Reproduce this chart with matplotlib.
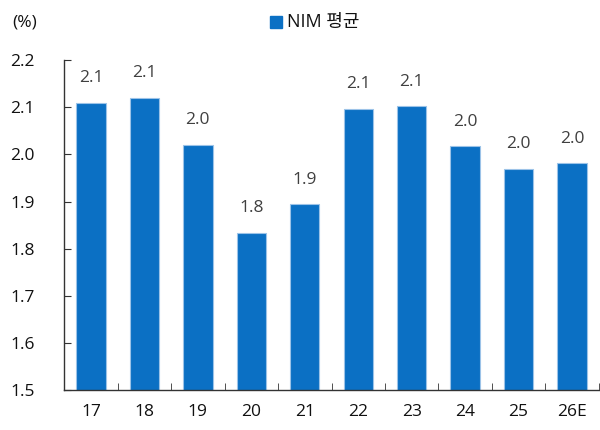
import matplotlib.pyplot as plt
from matplotlib.patches import Rectangle
import numpy as np

plt.rcParams['font.family'] = ['Open Sans', 'Noto Sans CJK KR', 'DejaVu Sans']

years = ["17", "18", "19", "20", "21", "22", "23", "24", "25", "26E"]
nim = [2.11, 2.12, 2.02, 1.834, 1.894, 2.097, 2.102, 2.017, 1.970, 1.981]
labels = ["2.1", "2.1", "2.0", "1.8", "1.9", "2.1", "2.1", "2.0", "2.0", "2.0"]
yticks = [1.5, 1.6, 1.7, 1.8, 1.9, 2.0, 2.1, 2.2]

fig = plt.figure(figsize=(6, 4.3), dpi=100)
ax = fig.add_axes([0.107, 0.093, 0.891, 0.767])

x = np.arange(len(years))
bars = ax.bar(x, nim, width=0.55, color="#0B70C4", edgecolor="#9CC3E8", linewidth=0.8,
              zorder=2)
for xi, v, lab in zip(x, nim, labels):
    ax.annotate(lab, (xi, v), xytext=(0, 12), textcoords="offset points",
                ha="center", va="bottom", fontsize=12.5, color="#404040")

ax.set_xlim(-0.5, len(years) - 0.5)
ax.set_ylim(1.5, 2.2)
ax.set_yticks(yticks)
ax.set_yticklabels([f"{t:.1f}" for t in yticks], fontsize=12.5, color="#111111")
ax.set_xticks(x)
ax.set_xticklabels(years, fontsize=12.5, color="#111111")
ax.set_xticks(np.arange(len(years) + 1) - 0.5, minor=True)
ax.tick_params(axis="x", which="major", length=0, pad=10)
ax.tick_params(axis="x", which="minor", direction="in", length=5, color="#333333")
ax.tick_params(axis="y", direction="in", length=5, pad=21, color="#333333")

for s in ["top", "right"]:
    ax.spines[s].set_visible(False)
for s in ["left", "bottom"]:
    ax.spines[s].set_color("#333333")
    ax.spines[s].set_linewidth(1)

fig.text(0.02, 0.948, "(%)", fontsize=12.5, color="#111111", va="center")
fig.patches.append(Rectangle((0.45, 0.934), 0.02, 0.028, transform=fig.transFigure,
                             color="#0B70C4"))
fig.text(0.478, 0.948, "NIM 평균", fontsize=13, color="#111111", va="center")

fig.savefig("out.png", dpi=100)
